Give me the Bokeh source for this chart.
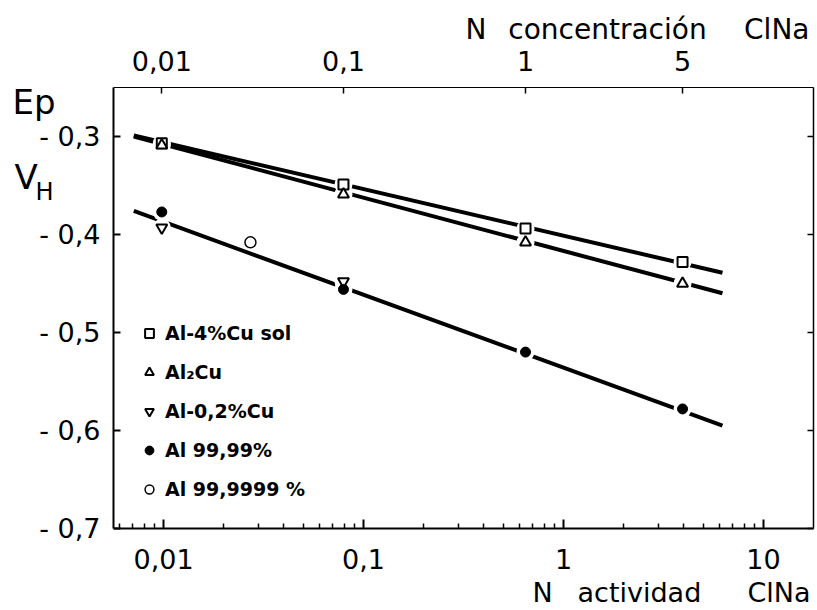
import math
from bokeh.plotting import figure
from bokeh.models import (Label, Legend, LegendItem, FixedTicker, LogAxis,
                          LinearAxis, Range1d)
from bokeh.embed import file_html
from bokeh.resources import INLINE

# ---- data -------------------------------------------------------------
act_ticks = [0.01, 0.1, 1, 10]
act_labels = ["0,01", "0,1", "1", "10"]
conc_pos = [0.0098, 0.0794, 0.646, 3.94]          # activity of each concentration tick
conc_labels = ["0,01", "0,1", "1", "5"]
y_ticks = [-0.7, -0.6, -0.5, -0.4, -0.3]
y_labels = ["- 0,7", "- 0,6", "- 0,5", "- 0,4", "- 0,3"]

sq_x = [0.0098, 0.0794, 0.646, 3.94]               # Al-4%Cu sol
sq_y = [-0.307, -0.349, -0.394, -0.428]
tri_x = [0.0098, 0.0794, 0.646, 3.94]              # Al2Cu
tri_y = [-0.309, -0.359, -0.408, -0.450]
inv_x = [0.0098, 0.0794]                           # Al-0,2%Cu
inv_y = [-0.393, -0.448]
fc_x = [0.0098, 0.0794, 0.646, 3.94]               # Al 99,99%
fc_y = [-0.377, -0.456, -0.520, -0.578]
oc_x = [0.0272]                                    # Al 99,9999 %
oc_y = [-0.408]

fit_x = [0.0071, 6.24]
fit_sq = [-0.299, -0.439]
fit_tri = [-0.300, -0.460]
fit_al = [-0.376, -0.595]

# ---- layout: the frame fills the page, axes sit at fixed data positions --
FONT = "DejaVu Sans"
W, H = 817, 610
PL, PR, PT, PB = 113, 813, 87, 528       # pixel box of the plotting area
X0, X1 = 0.00562, 17.8
Y0, Y1 = -0.7, -0.25
lx0, lx1 = math.log10(X0), math.log10(X1)
kx = (PR - PL) / (lx1 - lx0)             # px per decade
ky = (PB - PT) / (Y1 - Y0)               # px per volt
XA = 10 ** (lx0 - PL / kx)
XB = 10 ** (lx1 + (W - PR) / kx)
YA = Y0 - (H - PB) / ky
YB = Y1 + PT / ky

minor = [k * 10.0 ** e for e in range(-3, 2) for k in range(2, 10)
         if X0 <= k * 10.0 ** e <= X1]

p = figure(width=W, height=H, x_axis_type="log",
           x_range=Range1d(XA, XB), y_range=Range1d(YA, YB),
           output_backend="svg", toolbar_location=None,
           min_border_left=0, min_border_right=0,
           min_border_top=0, min_border_bottom=0)
p.grid.visible = False
p.outline_line_color = None
p.background_fill_color = "white"
p.border_fill_color = "white"

# bottom axis
xa = p.xaxis[0]
xa.fixed_location = Y0
xa.bounds = (X0, X1)
xa.ticker = FixedTicker(ticks=act_ticks, minor_ticks=minor)
xa.major_label_overrides = dict(zip(act_ticks, act_labels))
xa.major_tick_in = 9
xa.major_tick_out = 0
xa.minor_tick_in = 5
xa.minor_tick_out = 0
xa.axis_line_width = 2
xa.major_tick_line_width = 2
xa.minor_tick_line_width = 1.5
xa.major_label_text_font = FONT
xa.major_label_text_font_size = "27px"
xa.major_label_standoff = 20
xa.major_label_text_color = "black"

# left axis
ya = p.yaxis[0]
ya.fixed_location = X0
ya.bounds = (Y0, Y1)
ya.ticker = FixedTicker(ticks=y_ticks)
ya.major_label_overrides = dict(zip(y_ticks, y_labels))
ya.major_tick_in = 7
ya.major_tick_out = 0
ya.minor_tick_line_color = None
ya.axis_line_width = 2
ya.major_tick_line_width = 2
ya.major_label_text_font = FONT
ya.major_label_text_font_size = "27px"
ya.major_label_standoff = 13
ya.major_label_text_color = "black"

# top axis (concentration)
top = LogAxis(ticker=FixedTicker(ticks=conc_pos), bounds=(X0, X1),
              fixed_location=Y1,
              major_label_overrides=dict(zip(conc_pos, conc_labels)),
              major_tick_in=6, major_tick_out=0,
              minor_tick_line_color=None,
              axis_line_width=1.2, major_tick_line_width=1.5,
              major_label_text_font=FONT, major_label_text_font_size="27px",
              major_label_standoff=17, major_label_text_color="black")
p.add_layout(top, "above")

# right axis
right = LinearAxis(ticker=FixedTicker(ticks=y_ticks), bounds=(Y0, Y1),
                   fixed_location=X1,
                   major_tick_in=6, major_tick_out=0,
                   minor_tick_line_color=None,
                   axis_line_width=1.5, major_tick_line_width=1.5,
                   major_label_overrides={t: "" for t in y_ticks},
                   major_label_standoff=0)
p.add_layout(right, "right")

# fitted lines
for fy in (fit_sq, fit_tri, fit_al):
    p.line(fit_x, fy, line_color="black", line_width=4)

# gaps in lines around points
for xs, ys in ((sq_x, sq_y), (tri_x, tri_y), (inv_x, inv_y), (fc_x, fc_y)):
    p.scatter(xs, ys, marker="circle", size=18, fill_color="white",
              line_color=None)

r_sq = p.scatter(sq_x, sq_y, marker="square", size=10, fill_color="white",
                 line_color="black", line_width=2)
r_tri = p.scatter(tri_x, tri_y, marker="triangle", size=11, fill_color="white",
                  line_color="black", line_width=2)
r_inv = p.scatter(inv_x, inv_y, marker="inverted_triangle", size=11,
                  fill_color="white", line_color="black", line_width=2)
r_fc = p.scatter(fc_x, fc_y, marker="circle", size=10, fill_color="black",
                 line_color="black")
r_oc = p.scatter(oc_x, oc_y, marker="circle", size=11, fill_color="white",
                 line_color="black", line_width=1.5)

legend = Legend(items=[
    LegendItem(label="Al-4%Cu sol", renderers=[r_sq]),
    LegendItem(label="Al\u2082Cu", renderers=[r_tri]),
    LegendItem(label="Al-0,2%Cu", renderers=[r_inv]),
    LegendItem(label="Al 99,99%", renderers=[r_fc]),
    LegendItem(label="Al 99,9999 %", renderers=[r_oc]),
], location=(PL + 25, (H - PB) + 28), padding=0, margin=0, spacing=17,
    glyph_width=22, glyph_height=22, label_height=22, label_standoff=5,
    border_line_color=None, background_fill_alpha=0,
    label_text_font=FONT, label_text_font_style="bold",
    label_text_font_size="19px", label_text_color="black")
p.add_layout(legend, "center")


# free texts, positioned by page pixel (converted to data coordinates)
def dx(px):
    return 10 ** (lx0 + (px - PL) / kx)


def dy(py):
    return Y1 - (py - PT) / ky


def lab(text, px, py, size, align="left"):
    p.add_layout(Label(text=text, x=dx(px), y=dy(py),
                       text_font=FONT, text_font_size=size, text_color="black",
                       text_align=align, text_baseline="middle"))


lab("Ep", 12, 101, "34px")
lab("V", 14, 176, "34px")
lab("H", 35, 191, "24px")
lab("N", 465, 29, "28px")
lab("concentración", 607, 29, "28px", "center")
lab("ClNa", 809, 29, "28px", "right")
lab("N", 532, 592, "27px")
lab("actividad", 577, 592, "27px")
lab("ClNa", 810, 592, "27px", "right")

open("out.html", "w").write(file_html(p, INLINE))
